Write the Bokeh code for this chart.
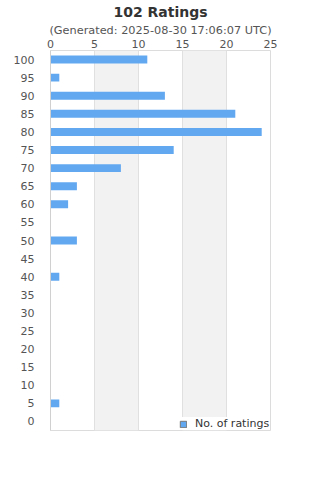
from bokeh.plotting import figure
from bokeh.models import Range1d, FixedTicker, Title, Legend, LegendItem, ColumnDataSource
from bokeh.embed import file_html
from bokeh.resources import INLINE

ratings = [0, 5, 10, 15, 20, 25, 30, 35, 40, 45, 50, 55, 60, 65, 70, 75, 80, 85, 90, 95, 100]
counts = [0, 1, 0, 0, 0, 0, 0, 0, 1, 0, 3, 0, 2, 3, 8, 14, 24, 21, 13, 1, 11]
x_ticks = [0, 5, 10, 15, 20, 25]
title_text = "102 Ratings"
subtitle_text = "(Generated: 2025-08-30 17:06:07 UTC)"
series_name = "No. of ratings"

BAR = "#62a8f1"
FONT = "DejaVu Sans"

p = figure(frame_width=220, frame_height=380,
           min_border_left=50, min_border_right=50, min_border_top=0, min_border_bottom=50,
           x_range=Range1d(x_ticks[0], x_ticks[-1]), y_range=Range1d(-2.5, 102.5),
           x_axis_location="above", toolbar_location=None, output_backend="svg")
p.background_fill_color = "white"
p.border_fill_color = "white"
p.outline_line_color = "#dcdcdc"

src = ColumnDataSource(dict(y=ratings, right=counts))
p.hbar(y="y", right="right", left=0, height=2.2, source=src, fill_color=BAR, line_color=None)

nan = float("nan")
leg_src = ColumnDataSource(dict(l=[nan], r=[nan], b=[nan], t=[nan]))
leg_r = p.quad(left="l", right="r", bottom="b", top="t", source=leg_src,
               fill_color=BAR, line_color="#777777", line_width=1)

p.xaxis.ticker = FixedTicker(ticks=x_ticks)
p.yaxis.ticker = FixedTicker(ticks=ratings)
for ax in (p.xaxis[0], p.yaxis[0]):
    ax.major_tick_line_color = None
    ax.minor_tick_line_color = None
    ax.major_label_text_font = FONT
    ax.major_label_text_font_size = "11px"
    ax.major_label_text_color = "#555555"
p.xaxis.axis_line_color = None
p.xaxis.major_label_standoff = -3
p.yaxis.axis_line_color = "#d0d0d0"
p.yaxis.major_label_standoff = 10

p.xgrid.ticker = FixedTicker(ticks=x_ticks)
p.xgrid.grid_line_color = "#e0e0e0"
p.xgrid.band_fill_color = "#f2f2f2"
p.xgrid.band_fill_alpha = 1.0
p.ygrid.grid_line_color = None

p.add_layout(Title(text=subtitle_text, align="center", text_font=FONT, text_font_size="11.3px",
                   text_font_style="normal", text_color="#555555", standoff=0, offset=0), "above")
p.add_layout(Title(text=title_text, align="center", text_font=FONT, text_font_size="14px",
                   text_font_style="bold", text_color="#333333", standoff=3, offset=0), "above")

legend = Legend(items=[LegendItem(label=series_name, renderers=[leg_r])],
                location=(129, 0), background_fill_color="white", background_fill_alpha=1.0,
                border_line_color=None, label_text_font=FONT, label_text_font_size="11px",
                label_text_color="#333333", glyph_width=8, glyph_height=8,
                padding=3, margin=0, spacing=0, label_standoff=8, label_height=12)
p.add_layout(legend, "center")

open("out.html", "w").write(file_html(p, INLINE))
